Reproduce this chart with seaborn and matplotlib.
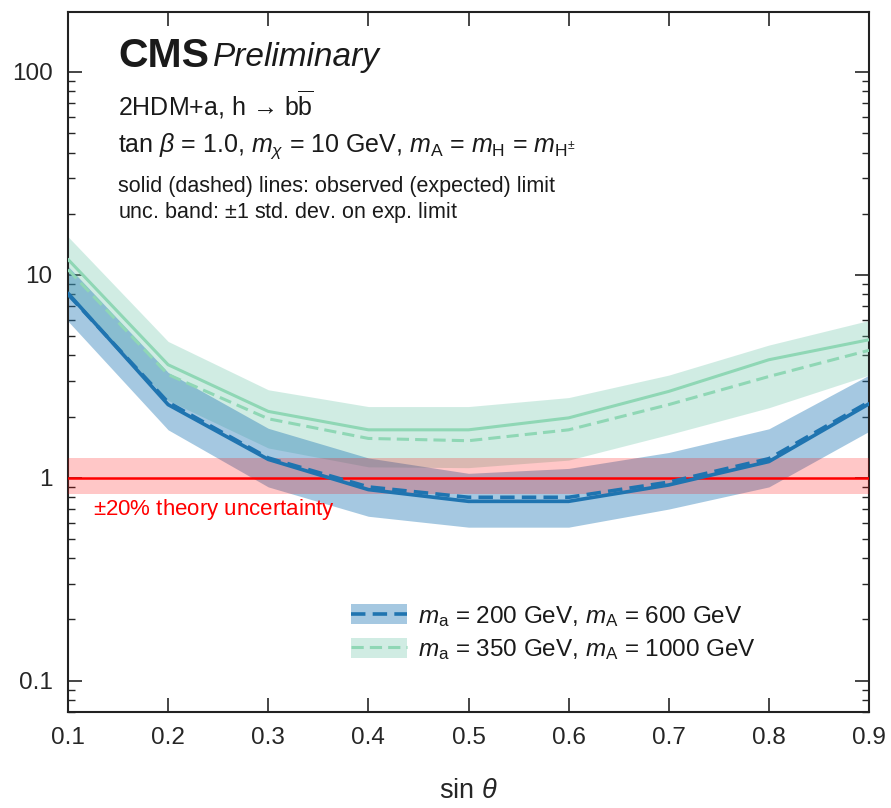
import numpy as np
import pandas as pd
import matplotlib
matplotlib.use("Agg")
import matplotlib.pyplot as plt
import seaborn as sns
from matplotlib.patches import Patch
from matplotlib.lines import Line2D
from matplotlib.legend_handler import HandlerTuple

# ---- data ----
sin_theta = [0.1, 0.2, 0.3, 0.4, 0.5, 0.6, 0.7, 0.8, 0.9]

blue_obs = [8.1, 2.29, 1.23, 0.873, 0.764, 0.764, 0.92, 1.20, 2.31]
blue_exp = [8.0, 2.35, 1.25, 0.90, 0.80, 0.80, 0.95, 1.24, 2.36]
blue_up = [11.0, 3.3, 1.75, 1.25, 1.05, 1.11, 1.33, 1.74, 3.2]
blue_dn = [5.9, 1.72, 0.90, 0.645, 0.57, 0.57, 0.70, 0.90, 1.69]

green_obs = [11.9, 3.6, 2.12, 1.72, 1.72, 1.97, 2.66, 3.81, 4.78]
green_exp = [10.6, 3.22, 1.95, 1.56, 1.52, 1.72, 2.29, 3.15, 4.24]
green_up = [15.4, 4.69, 2.71, 2.24, 2.24, 2.48, 3.2, 4.5, 5.95]
green_dn = [8.0, 2.4, 1.4, 1.13, 1.12, 1.22, 1.63, 2.21, 3.2]

theory_lo = 1 / 1.2
theory_hi = 1 / 0.8

labels = [r"$m_{\mathrm{a}}$ = 200 GeV, $m_{\mathrm{A}}$ = 600 GeV",
          r"$m_{\mathrm{a}}$ = 350 GeV, $m_{\mathrm{A}}$ = 1000 GeV"]
x_ticks = [0.1, 0.2, 0.3, 0.4, 0.5, 0.6, 0.7, 0.8, 0.9]
y_ticks = [0.1, 1, 10, 100]
y_ticklabels = ["0.1", "1", "10", "100"]

# ---- style ----
sns.set_style("ticks")
plt.rcParams['font.family'] = ['Liberation Sans', 'DejaVu Sans']
plt.rcParams['mathtext.fontset'] = 'custom'
plt.rcParams['mathtext.rm'] = 'Liberation Sans'
plt.rcParams['mathtext.it'] = 'Liberation Sans:italic'
plt.rcParams['mathtext.bf'] = 'Liberation Sans:bold'
plt.rcParams['text.color'] = '#1a1a1a'

BLUE = "#1f74b0"
BLUE_BAND = "#1f77b4"
GREEN = "#8fd7b5"
GREEN_BAND = "#66c2a5"

fig = plt.figure(figsize=(8.91, 8.08), dpi=100)
ax = fig.add_axes([68/891, 1 - 712/808, (869-68)/891, (712-12)/808])

# bands
ax.fill_between(sin_theta, green_dn, green_up, color=GREEN_BAND, alpha=0.30, lw=0, zorder=1)
ax.fill_between(sin_theta, blue_dn, blue_up, color=BLUE_BAND, alpha=0.40, lw=0, zorder=2)
ax.axhspan(theory_lo, theory_hi, color="#ff0000", alpha=0.22, lw=0, zorder=3)
ax.axhline(1.0, color="red", lw=1.8, zorder=4)

df = pd.DataFrame({
    "x": sin_theta * 4,
    "y": blue_obs + blue_exp + green_obs + green_exp,
    "series": ["bo"] * 9 + ["be"] * 9 + ["go"] * 9 + ["ge"] * 9,
})
sns.lineplot(data=df[df.series == "bo"], x="x", y="y", ax=ax, color=BLUE, lw=2.6, zorder=6)
sns.lineplot(data=df[df.series == "be"], x="x", y="y", ax=ax, color=BLUE, lw=2.6,
             linestyle=(0, (4, 2)), zorder=7)
sns.lineplot(data=df[df.series == "go"], x="x", y="y", ax=ax, color=GREEN, lw=2.2, zorder=5)
sns.lineplot(data=df[df.series == "ge"], x="x", y="y", ax=ax, color=GREEN, lw=2.2,
             linestyle=(0, (4, 2)), zorder=5)

ax.set_yscale("log")
ax.set_xlim(0.1, 0.9)
ax.set_ylim(0.07, 197)
ax.set_xticks(x_ticks)
ax.set_xticklabels([f"{v:.1f}" for v in x_ticks], fontsize=17.5)
ax.set_yticks(y_ticks)
ax.set_yticklabels(y_ticklabels, fontsize=17.5)
ax.tick_params(axis="both", which="major", direction="in", length=10, width=1.2,
               top=True, right=True, pad=11)
ax.tick_params(axis="y", which="minor", direction="in", length=5, width=1.0, right=True, left=True)
ax.tick_params(axis="x", which="minor", bottom=False, top=False)
ax.set_xlabel(r"sin $\theta$", fontsize=19.5, labelpad=21)
ax.set_ylabel("")
for s in ax.spines.values():
    s.set_linewidth(1.5)
    s.set_color("#222222")

# texts
x0 = (118 - 68) / 801
ax.text(x0, 0.937, "CMS", transform=ax.transAxes, fontsize=29.5,
        fontweight="bold", va="center", ha="left")
ax.text((213 - 68) / 801, 0.935, "Preliminary", transform=ax.transAxes, fontsize=24,
        style="italic", va="center", ha="left")
ax.text(x0, 0.867, "2HDM+a, h \u2192 b" + r"$\overline{\mathrm{b}}$", transform=ax.transAxes,
        fontsize=18, va="center", ha="left")
ax.text(x0, 0.808,
        r"tan $\beta$ = 1.0, $m_{\chi}$ = 10 GeV, $m_{\mathrm{A}}$ = $m_{\mathrm{H}}$ = $m_{\mathrm{H^{\pm}}}$",
        transform=ax.transAxes, fontsize=18, va="center", ha="left")
ax.text(x0, 0.751, "solid (dashed) lines: observed (expected) limit", transform=ax.transAxes,
        fontsize=15.5, va="center", ha="left")
ax.text(x0, 0.713, r"unc. band: $\pm$1 std. dev. on exp. limit", transform=ax.transAxes,
        fontsize=15.5, va="center", ha="left")
ax.text((93 - 68) / 801, 0.2886, r"$\pm$20% theory uncertainty", transform=ax.transAxes,
        fontsize=16, color="red", va="center", ha="left")

# legend
h1 = (Patch(facecolor=BLUE_BAND, alpha=0.40, lw=0), Line2D([], [], color=BLUE, lw=2.6, linestyle=(0, (4, 2))))
h2 = (Patch(facecolor=GREEN_BAND, alpha=0.30, lw=0), Line2D([], [], color=GREEN, lw=2.2, linestyle=(0, (4, 2))))
leg = ax.legend([h1, h2], labels, handler_map={tuple: HandlerTuple(ndivide=1, pad=0)},
                loc="upper left", bbox_to_anchor=((339 - 68) / 801, 0.172), frameon=False,
                fontsize=17.5, handlelength=2.3, handleheight=0.9, handletextpad=0.45,
                labelspacing=0.35, borderpad=0)

fig.savefig("out.png", dpi=100)
